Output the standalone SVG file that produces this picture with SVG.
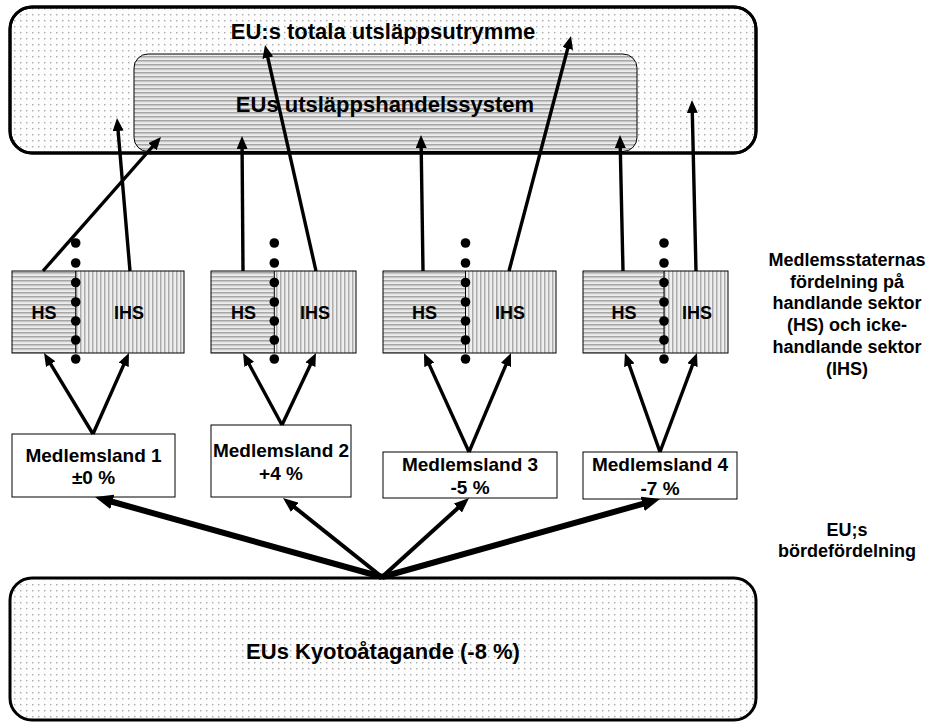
<svg xmlns="http://www.w3.org/2000/svg" width="930" height="723" viewBox="0 0 930 723">
<defs>
<pattern id="dots" width="6" height="6" patternUnits="userSpaceOnUse">
<rect width="6" height="6" fill="#fdfdfd"/>
<rect x="2" y="2" width="1.4" height="1.4" fill="#a8a8a8"/>
</pattern>
<pattern id="hstripe" width="4" height="4" patternUnits="userSpaceOnUse">
<rect width="4" height="4" fill="#ececec"/>
<rect y="0" width="4" height="1.6" fill="#a6a6a6"/>
<rect y="1.6" width="4" height="0.6" fill="#cbcbcb"/>
</pattern>
<pattern id="vstripe" width="4" height="4" patternUnits="userSpaceOnUse">
<rect width="4" height="4" fill="#f0f0f0"/>
<rect x="0" width="1.5" height="4" fill="#ababab"/>
<rect x="1.5" width="0.6" height="4" fill="#d0d0d0"/>
</pattern>
<marker id="ah" markerUnits="userSpaceOnUse" markerWidth="13" markerHeight="11" refX="3" refY="5.5" orient="auto">
<path d="M0,0 L13,5.5 L0,11 z" fill="#000"/>
</marker>
<marker id="ahm" markerUnits="userSpaceOnUse" markerWidth="15" markerHeight="12" refX="3" refY="6" orient="auto">
<path d="M0,0 L15,6 L0,12 z" fill="#000"/>
</marker>
<marker id="ahl" markerUnits="userSpaceOnUse" markerWidth="18" markerHeight="15" refX="4" refY="7.5" orient="auto">
<path d="M0,0 L18,7.5 L0,15 z" fill="#000"/>
</marker>
</defs>
<style>
text { font-family: "Liberation Sans", Arial, sans-serif; font-weight: bold; fill: #000; text-anchor: middle; }
.big { font-size: 22px; }
.mid { font-size: 19px; }
.sm { font-size: 18px; }
.outer { fill: url(#dots); stroke: #000; stroke-width: 3; }
.outline { fill: none; stroke: #000; stroke-width: 3; }
.inner { fill: url(#hstripe); stroke: #000; stroke-width: 1; }
.hs { fill: url(#hstripe); }
.ihs { fill: url(#vstripe); }
.frame { fill: none; stroke: #000; stroke-width: 1; }
.mbox { fill: #fff; stroke: #000; stroke-width: 1; }
.div { stroke: #000; stroke-width: 1; }
.dot { fill: #000; }
.c3 { fill: none; stroke: #000; stroke-width: 3.4; marker-end: url(#ah); }
.c4 { fill: none; stroke: #000; stroke-width: 4; marker-end: url(#ahm); }
.c6 { fill: none; stroke: #000; stroke-width: 6; marker-end: url(#ahl); }
</style>

<g id="eu-total">
<rect class="outer" x="10" y="7" width="746" height="146" rx="22" ry="22"/>
<text class="big" x="383" y="39">EU:s totala utsläppsutrymme</text>
</g>

<g id="eu-ets">
<rect class="inner" x="134" y="54" width="503" height="97.5" rx="14" ry="14"/>
<text class="big" x="385" y="112">EUs utsläppshandelssystem</text>
</g>
<rect id="eu-total-border" class="outline" x="10" y="7" width="746" height="146" rx="22" ry="22"/>

<g id="sector1">
<rect class="hs" x="12" y="271" width="63.7" height="82"/>
<rect class="ihs" x="75.7" y="271" width="108.3" height="82"/>
<rect class="frame" x="12" y="271" width="172" height="82"/>
<line class="div" x1="75.7" y1="271" x2="75.7" y2="353"/>
<g class="dot"><circle cx="75.7" cy="243" r="4.8"/><circle cx="75.7" cy="263" r="4.8"/><circle cx="75.7" cy="282.5" r="4.8"/><circle cx="75.7" cy="302" r="4.8"/><circle cx="75.7" cy="321" r="4.8"/><circle cx="75.7" cy="340" r="4.8"/><circle cx="75.7" cy="359" r="4.8"/></g>
<text class="sm" x="44" y="319">HS</text>
<text class="sm" x="129" y="319">IHS</text>
</g>

<g id="sector2">
<rect class="hs" x="211" y="271" width="63.3" height="82"/>
<rect class="ihs" x="274.3" y="271" width="81.7" height="82"/>
<rect class="frame" x="211" y="271" width="145" height="82"/>
<line class="div" x1="274.3" y1="271" x2="274.3" y2="353"/>
<g class="dot"><circle cx="274.3" cy="243" r="4.8"/><circle cx="274.3" cy="263" r="4.8"/><circle cx="274.3" cy="282.5" r="4.8"/><circle cx="274.3" cy="302" r="4.8"/><circle cx="274.3" cy="321" r="4.8"/><circle cx="274.3" cy="340" r="4.8"/><circle cx="274.3" cy="359" r="4.8"/></g>
<text class="sm" x="243.5" y="319">HS</text>
<text class="sm" x="315" y="319">IHS</text>
</g>

<g id="sector3">
<rect class="hs" x="383" y="271" width="82.5" height="82"/>
<rect class="ihs" x="465.5" y="271" width="90.5" height="82"/>
<rect class="frame" x="383" y="271" width="173" height="82"/>
<line class="div" x1="465.5" y1="271" x2="465.5" y2="353"/>
<g class="dot"><circle cx="465.5" cy="243" r="4.8"/><circle cx="465.5" cy="263" r="4.8"/><circle cx="465.5" cy="282.5" r="4.8"/><circle cx="465.5" cy="302" r="4.8"/><circle cx="465.5" cy="321" r="4.8"/><circle cx="465.5" cy="340" r="4.8"/><circle cx="465.5" cy="359" r="4.8"/></g>
<text class="sm" x="424.5" y="319">HS</text>
<text class="sm" x="510" y="319">IHS</text>
</g>

<g id="sector4">
<rect class="hs" x="583" y="271" width="81" height="82"/>
<rect class="ihs" x="664" y="271" width="64" height="82"/>
<rect class="frame" x="583" y="271" width="145" height="82"/>
<line class="div" x1="664" y1="271" x2="664" y2="353"/>
<g class="dot"><circle cx="664" cy="243" r="4.8"/><circle cx="664" cy="263" r="4.8"/><circle cx="664" cy="282.5" r="4.8"/><circle cx="664" cy="302" r="4.8"/><circle cx="664" cy="321" r="4.8"/><circle cx="664" cy="340" r="4.8"/><circle cx="664" cy="359" r="4.8"/></g>
<text class="sm" x="624" y="319">HS</text>
<text class="sm" x="697" y="319">IHS</text>
</g>

<g id="member1">
<rect class="mbox" x="12" y="434" width="163" height="63"/>
<text class="mid" x="93.5" y="462">Medlemsland 1</text>
<text class="mid" x="93.5" y="484">±0 %</text>
</g>

<g id="member2">
<rect class="mbox" x="211" y="425" width="140" height="72"/>
<text class="mid" x="281" y="457">Medlemsland 2</text>
<text class="mid" x="281" y="480">+4 %</text>
</g>

<g id="member3">
<rect class="mbox" x="383" y="452" width="174" height="46"/>
<text class="mid" x="470" y="470.5">Medlemsland 3</text>
<text class="mid" x="470" y="494">-5 %</text>
</g>

<g id="member4">
<rect class="mbox" x="583" y="452" width="154" height="47"/>
<text class="mid" x="660" y="471">Medlemsland 4</text>
<text class="mid" x="660" y="495">-7 %</text>
</g>

<g id="kyoto">
<rect class="outer" x="10" y="578" width="746" height="142" rx="22" ry="22"/>
<text class="big" x="383" y="659">EUs Kyotoåtagande (-8 %)</text>
</g>

<g id="label-sectors">
<text class="sm" x="847" y="266">Medlemsstaternas</text>
<text class="sm" x="847" y="288">fördelning på</text>
<text class="sm" x="847" y="309">handlande sektor</text>
<text class="sm" x="847" y="331">(HS) och icke-</text>
<text class="sm" x="847" y="353">handlande sektor</text>
<text class="sm" x="847" y="375">(IHS)</text>
</g>

<g id="label-burden">
<text class="sm" x="847" y="536">EU;s</text>
<text class="sm" x="847" y="557">bördefördelning</text>
</g>

<g id="connectors">
<line class="c3" x1="43" y1="271" x2="154.4" y2="144.5"/>
<line class="c3" x1="130" y1="271" x2="117.85" y2="128"/>
<line class="c3" x1="243" y1="271" x2="242.07" y2="146"/>
<line class="c3" x1="316" y1="271" x2="267.2" y2="54.8"/>
<line class="c3" x1="423" y1="271" x2="421.15" y2="145"/>
<line class="c3" x1="509" y1="271" x2="568.45" y2="45.7"/>
<line class="c3" x1="623" y1="271" x2="620.2" y2="145"/>
<line class="c3" x1="696" y1="271" x2="692.23" y2="110"/>

<line class="c3" x1="93" y1="434" x2="49.2" y2="361.6"/>
<line class="c3" x1="93" y1="434" x2="124.9" y2="362.1"/>
<line class="c3" x1="282" y1="425" x2="247.8" y2="361.8"/>
<line class="c3" x1="282" y1="425" x2="311.7" y2="362"/>
<line class="c3" x1="469" y1="452" x2="428.1" y2="362.1"/>
<line class="c3" x1="469" y1="452" x2="507.1" y2="362.2"/>
<line class="c3" x1="660" y1="452" x2="628.3" y2="362.4"/>
<line class="c3" x1="660" y1="452" x2="693.5" y2="362.4"/>

<line class="c6" x1="382" y1="577" x2="108.49" y2="500.76"/>
<line class="c4" x1="382" y1="577" x2="292.38" y2="505.48"/>
<line class="c4" x1="382" y1="577" x2="460.12" y2="506.07"/>
<line class="c6" x1="382" y1="577" x2="646.52" y2="502.78"/>
</g>
</svg>
